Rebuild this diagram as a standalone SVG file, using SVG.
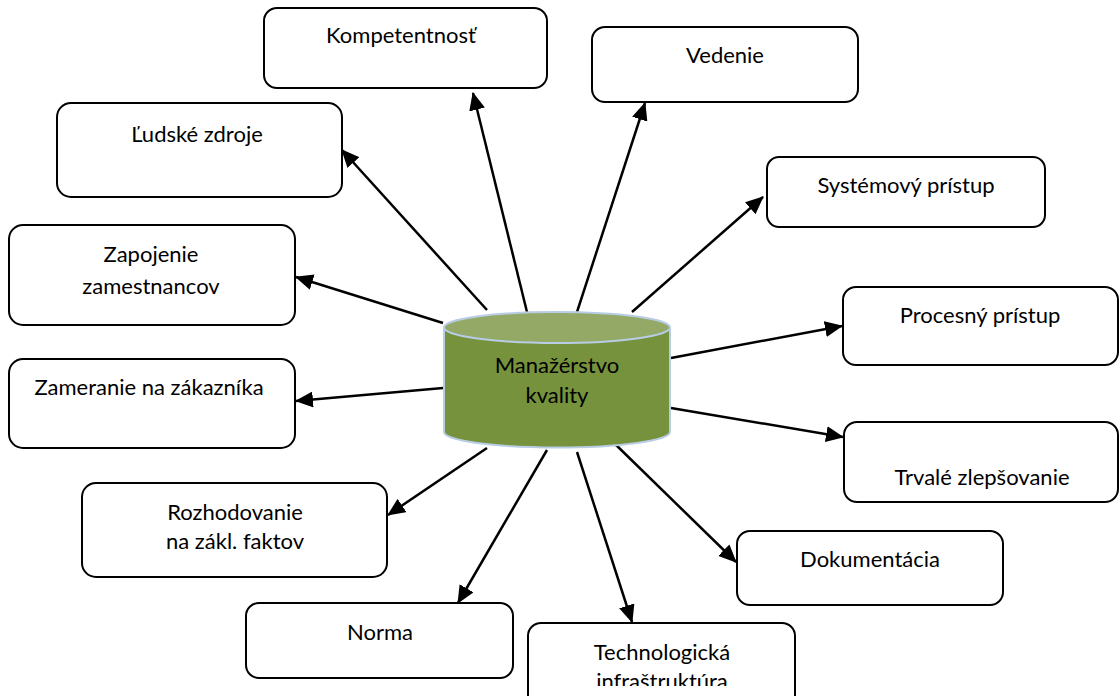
<svg xmlns="http://www.w3.org/2000/svg" width="1120" height="696" viewBox="0 0 1120 696">
  <style>
    .box { fill: #ffffff; stroke: #000000; stroke-width: 2; }
    .lbl { font-family: Lato, "Open Sans", "Liberation Sans", sans-serif; font-size: 22px; fill: #000000; text-anchor: middle; }
    .conn { stroke: #000000; stroke-width: 2.5; fill: none; marker-end: url(#head); }
    .cyl-body { fill: #76923C; stroke: #B8CCE4; stroke-width: 2; }
    .cyl-top { fill: #93A965; stroke: #B8CCE4; stroke-width: 2; }
  </style>
  <defs>
    <marker id="head" markerUnits="userSpaceOnUse" markerWidth="18" markerHeight="16" viewBox="0 0 18 16" refX="17" refY="8" orient="auto">
      <path d="M0,0 L18,8 L0,16 z" fill="#000000"/>
    </marker>
    <clipPath id="clipTech">
      <rect x="528" y="624" width="267" height="62"/>
    </clipPath>
  </defs>
  <rect width="1120" height="696" fill="#ffffff"/>

  <!-- connectors: hub to each topic -->
  <g id="connectors">
    <line class="conn" x1="527" y1="312" x2="473" y2="93"/>
    <line class="conn" x1="577" y1="312" x2="645" y2="103"/>
    <line class="conn" x1="487" y1="310" x2="342" y2="150"/>
    <line class="conn" x1="632" y1="312" x2="763" y2="197"/>
    <line class="conn" x1="443" y1="323" x2="296" y2="277"/>
    <line class="conn" x1="671" y1="358" x2="842" y2="326"/>
    <line class="conn" x1="443" y1="388" x2="296" y2="401"/>
    <line class="conn" x1="671" y1="408" x2="843" y2="437"/>
    <line class="conn" x1="487" y1="448" x2="388" y2="515"/>
    <line class="conn" x1="613" y1="442" x2="736" y2="562"/>
    <line class="conn" x1="547" y1="450" x2="458" y2="603"/>
    <line class="conn" x1="577" y1="452" x2="632" y2="622"/>
  </g>

  <!-- central hub -->
  <g id="hub">
    <path class="cyl-body" d="M444,327.5 L444,432 A113,15.5 0 0 0 670,432 L670,327.5 Z"/>
    <ellipse class="cyl-top" cx="557" cy="327.5" rx="113" ry="15.5"/>
    <text class="lbl" x="557" y="373">Manažérstvo</text>
    <text class="lbl" x="557" y="403">kvality</text>
  </g>

  <g id="kompetentnost">
    <rect class="box" x="264" y="8" width="283" height="80" rx="13"/>
    <text class="lbl" x="401" y="43">Kompetentnosť</text>
  </g>
  <g id="vedenie">
    <rect class="box" x="592" y="27" width="266" height="75" rx="13"/>
    <text class="lbl" x="725" y="63">Vedenie</text>
  </g>
  <g id="ludske-zdroje">
    <rect class="box" x="57" y="103" width="285" height="94" rx="14"/>
    <text class="lbl" x="197" y="142">Ľudské zdroje</text>
  </g>
  <g id="systemovy-pristup">
    <rect class="box" x="767" y="157" width="278" height="70" rx="12"/>
    <text class="lbl" x="906" y="193">Systémový prístup</text>
  </g>
  <g id="zapojenie-zamestnancov">
    <rect class="box" x="9" y="225" width="286" height="100" rx="14"/>
    <text class="lbl" x="151" y="262">Zapojenie</text>
    <text class="lbl" x="151" y="294">zamestnancov</text>
  </g>
  <g id="procesny-pristup">
    <rect class="box" x="843" y="287" width="275" height="78" rx="13"/>
    <text class="lbl" x="980" y="323">Procesný prístup</text>
  </g>
  <g id="zameranie-na-zakaznika">
    <rect class="box" x="9" y="359" width="286" height="89" rx="14"/>
    <text class="lbl" x="149" y="395">Zameranie na zákazníka</text>
  </g>
  <g id="trvale-zlepsovanie">
    <rect class="box" x="844" y="422" width="274" height="80" rx="13"/>
    <text class="lbl" x="982" y="485">Trvalé zlepšovanie</text>
  </g>
  <g id="rozhodovanie">
    <rect class="box" x="82" y="483" width="305" height="94" rx="14"/>
    <text class="lbl" x="235" y="520">Rozhodovanie</text>
    <text class="lbl" x="235" y="549">na zákl. faktov</text>
  </g>
  <g id="dokumentacia">
    <rect class="box" x="737" y="531" width="266" height="74" rx="13"/>
    <text class="lbl" x="870" y="567">Dokumentácia</text>
  </g>
  <g id="norma">
    <rect class="box" x="246" y="603" width="267" height="75" rx="13"/>
    <text class="lbl" x="380" y="640">Norma</text>
  </g>
  <g id="technologicka-infrastruktura">
    <rect class="box" x="528" y="623" width="267" height="90" rx="13"/>
    <g clip-path="url(#clipTech)">
      <text class="lbl" x="662" y="660">Technologická</text>
      <text class="lbl" x="662" y="689">infraštruktúra</text>
    </g>
  </g>
</svg>
